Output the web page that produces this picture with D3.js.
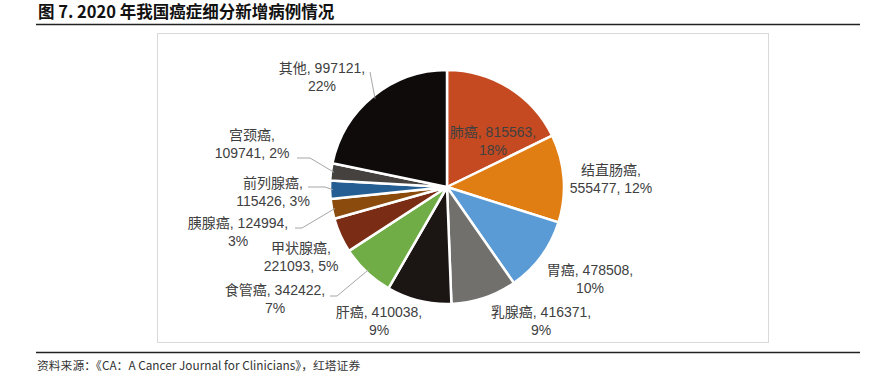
<!DOCTYPE html>
<html>
<head>
<meta charset="utf-8">
<script src="https://cdn.jsdelivr.net/npm/d3@7"></script>
<style>
  body { margin: 0; background: #fff; }
  svg { display: block; }
</style>
</head>
<body>
<svg width="878" height="386"></svg>
<script>
const names = ["肺癌","结直肠癌","胃癌","乳腺癌","肝癌","食管癌","甲状腺癌","胰腺癌","前列腺癌","宫颈癌","其他"]
const cases = [815563, 555477, 478508, 416371, 410038, 342422, 221093, 124994, 115426, 109741, 997121]
const shares = ["18%","12%","10%","9%","9%","7%","5%","3%","3%","2%","22%"]

const colors = ["#C64A21","#E07D13","#5B9BD5","#72706C","#1B1513","#70AD47","#7A2D14","#8A4B0C","#245E92","#44413E","#0F0B0B"]

// label lines + offsets from pie centre (layout only)
const labelLines = [
  d => [d.name + ", " + d.value + ",", d.share],
  d => [d.name + ",", d.value + ", " + d.share],
  d => [d.name + ", " + d.value + ",", d.share],
  d => [d.name + ", " + d.value + ",", d.share],
  d => [d.name + ", " + d.value + ",", d.share],
  d => [d.name + ", " + d.value + ",", d.share],
  d => [d.name + ",", d.value + ", " + d.share],
  d => [d.name + ", " + d.value + ",", d.share],
  d => [d.name + ",", d.value + ", " + d.share],
  d => [d.name + ",", d.value + ", " + d.share],
  d => [d.name + ", " + d.value + ",", d.share]
]
const labelPos = [[46,-55],[164,-17],[143,83],[94,125],[-68,125],[-172,103],[-146,61],[-209,36],[-174,-4],[-195,-52],[-125,-119]]
// leader start points (relative), null = no leader
const leaders = [null,null,null,null,null,[-117,109,-110],null,[-152,41,-145],[-139,0,-122],[-150,-29,-137],[-77,-115,null]]

const svg = d3.select("svg")
const cx = 447, cy = 187, R = 117

// title
svg.append("text")
  .attr("x", 38).attr("y", 18)
  .attr("font-family", "'Noto Sans CJK SC', 'Liberation Sans', sans-serif")
  .attr("font-weight", "bold").attr("font-size", 16.5)
  .attr("fill", "#111")
  .text("图 7. 2020 年我国癌症细分新增病例情况")

svg.append("line").attr("x1", 36).attr("x2", 860).attr("y1", 24.5).attr("y2", 24.5)
  .attr("stroke", "#222").attr("stroke-width", 1.3)
svg.append("line").attr("x1", 36).attr("x2", 860).attr("y1", 352.5).attr("y2", 352.5)
  .attr("stroke", "#222").attr("stroke-width", 1.3)

// chart frame
svg.append("rect").attr("x", 157.5).attr("y", 33.5).attr("width", 611).attr("height", 309)
  .attr("fill", "none").attr("stroke", "#d9d9d9")

svg.append("text")
  .attr("x", 37).attr("y", 370)
  .attr("font-family", "'Noto Sans CJK SC', 'Liberation Sans', sans-serif")
  .attr("font-size", 11.8).attr("fill", "#333")
  .text("资料来源：《CA：A Cancer Journal for Clinicians》，红塔证券")

const DATA = names.map((n, i) => ({name: n, value: cases[i], share: shares[i], i: i}))

const pie = d3.pie().value(d => d.value).sort(null)
const arc = d3.arc().innerRadius(0).outerRadius(R)
const arcs = pie(DATA)

const g = svg.append("g").attr("transform", `translate(${cx},${cy})`)

g.selectAll(".slice")
  .data(arcs)
  .enter()
  .append("path")
  .classed("slice", true)
  .attr("d", arc)
  .attr("fill", d => colors[d.data.i])
  .attr("stroke", "#fff")
  .attr("stroke-width", 2.5)
  .attr("stroke-linejoin", "round")

// leader lines
arcs.forEach(a => {
  const l = leaders[a.data.i]
  if (!l) return
  const mid = (a.startAngle + a.endAngle) / 2
  const ex = Math.sin(mid) * (R - 3), ey = -Math.cos(mid) * (R - 3)
  const pts = [[l[0], l[1]]]
  if (l[2] !== null) pts.push([l[2], l[1]])
  pts.push([ex, ey])
  g.append("path")
    .attr("d", d3.line()(pts))
    .attr("fill", "none")
    .attr("stroke", "#a6a6a6")
    .attr("stroke-width", 1)
})

// labels
const lbl = g.selectAll(".lbl")
  .data(arcs)
  .enter()
  .append("text")
  .classed("lbl", true)
  .attr("text-anchor", "middle")
  .attr("font-family", "'Liberation Sans', 'Noto Sans CJK SC', sans-serif")
  .attr("font-size", 14)
  .attr("fill", "#404040")
  .attr("transform", d => `translate(${labelPos[d.data.i][0]},${labelPos[d.data.i][1]})`)

lbl.each(function(d) {
  const lines = labelLines[d.data.i](d.data)
  const t = d3.select(this)
  lines.forEach((s, k) => {
    t.append("tspan").attr("x", 0).attr("y", k * 18.5).attr("dy", "0.35em").text(s)
  })
})
</script>
</body>
</html>
